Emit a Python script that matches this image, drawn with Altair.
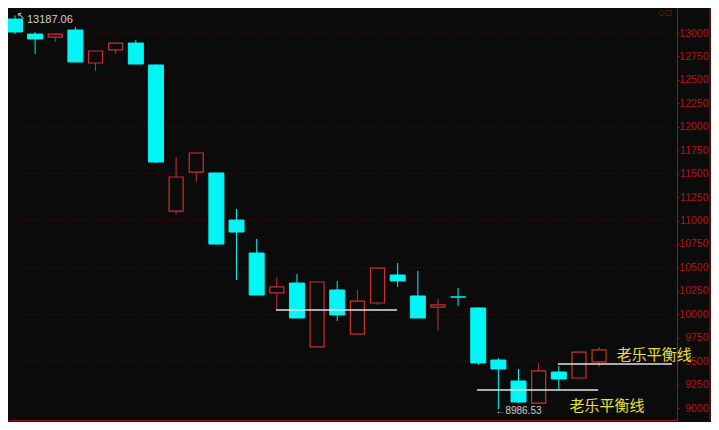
import altair as alt
import pandas as pd

# ---- data ----
idx = list(range(30))
opens = [13149, 12989, 12957, 13032, 12680, 12819, 12893, 12659, 11101, 11517,
         11507, 11005, 10653, 10227, 10333, 9651, 10259, 9789, 10120, 10419,
         10195, 10077, 10184, 10067, 9512, 9288, 9053, 9384, 9320, 9491]
closes = [13011, 12936, 12989, 12691, 12808, 12893, 12669, 11624, 11464, 11720,
          10749, 10877, 10205, 10291, 9960, 10344, 9992, 10141, 10493, 10355,
          9960, 10099, 10184, 9480, 9416, 9064, 9395, 9309, 9597, 9619]
highs = [13187.06, 13011, 12989, 13064, 12808, 12893, 12925, 12665, 11677, 11720,
         11507, 11123, 10803, 10397, 10429, 10344, 10355, 10259, 10493, 10547,
         10461, 10163, 10280, 10077, 9533, 9416, 9480, 9448, 9608, 9651]
lows = [12989, 12776, 12904, 12685, 12595, 12776, 12669, 11614, 11069, 11411,
        10739, 10365, 10205, 10045, 9960, 9651, 9928, 9789, 10099, 10291,
        9960, 9821, 10088, 9459, 8986.53, 9053, 9043, 9192, 9320, 9437]

tick_values = list(range(9000, 13001, 250))
grid_values = list(range(9000, 13001, 500))

# balance lines: start index, end index, level
bal_x = [12.96, 22.94, 26.95]
bal_x2 = [18.97, 28.95, 32.62]
bal_y = [10045, 9192, 9469]

label_text = ["老乐平衡线", "老乐平衡线"]
label_x = [29.88, 27.53]
label_y = [9565, 9021]

BG = "#0b0b0b"
TEAL = "#00f5f5"
RED = "#c83232"
AXRED = "#a01010"

df = pd.DataFrame({"i": idx, "open": opens, "close": closes, "high": highs, "low": lows})
df["up"] = df["close"] > df["open"]
df["top"] = df[["open", "close"]].max(axis=1)
df["bot"] = df[["open", "close"]].min(axis=1)

xs = alt.Scale(domain=[-0.0978, 32.62], nice=False, zero=False)
ys = alt.Scale(domain=[8872, 13266.67], nice=False, zero=False)

xax = alt.Axis(orient="bottom", labels=False, ticks=False, grid=False, title=None,
               domainColor=AXRED)
yax = alt.Axis(orient="right", values=tick_values, grid=False, title=None,
               labelColor="#b41414", labelFont="Liberation Sans", labelFontSize=10.5,
               labelAlign="right", labelPadding=29, tickSize=2, tickColor=AXRED,
               domainColor=AXRED, labelFlush=False, labelBaseline="middle", format="d")


def X(f):
    return alt.X(f, scale=xs, axis=xax)


def Y(f):
    return alt.Y(f, scale=ys, axis=yax)


col = alt.condition("datum.up", alt.value(RED), alt.value(TEAL))
base = alt.Chart(df)

grid = alt.Chart(pd.DataFrame({"g": grid_values, "x": [0] * len(grid_values),
                               "x2": [32.62] * len(grid_values)})).mark_rule(
    color="#5a0c0c", strokeDash=[1, 2], strokeWidth=1
).encode(x=X("x:Q"), x2="x2:Q", y=Y("g:Q"))

wick = base.mark_rule(strokeWidth=1).encode(
    x=X("i:Q"), y=Y("low:Q"), y2="high:Q", color=col,
)

body_down = base.transform_filter("!datum.up").mark_bar(
    size=15, color=TEAL, stroke=TEAL, strokeWidth=1
).encode(x=X("i:Q"), y=Y("top:Q"), y2="bot:Q")

body_up = base.transform_filter("datum.up").mark_bar(
    size=14, fill=BG, stroke=RED, strokeWidth=1.2
).encode(x=X("i:Q"), y=Y("top:Q"), y2="bot:Q")

bal = alt.Chart(pd.DataFrame({"x": bal_x, "x2": bal_x2, "y": bal_y})).mark_rule(
    color="#e4e4e4", strokeWidth=1.5
).encode(x=X("x:Q"), x2="x2:Q", y=Y("y:Q"))

labels = alt.Chart(pd.DataFrame({"t": label_text, "x": label_x, "y": label_y})).mark_text(
    align="left", baseline="middle", fontSize=15, color="#e6e03c",
    font="Noto Sans CJK SC"
).encode(x=X("x:Q"), y=Y("y:Q"), text="t:N")

hi_lab = alt.Chart(pd.DataFrame({"x": [0], "y": [highs[0]], "t": ["13187.06"]})).mark_text(
    align="left", baseline="middle", fontSize=11, color="#d0d0d0",
    font="Liberation Sans", dx=12, dy=5
).encode(x=X("x:Q"), y=Y("y:Q"), text="t:N")

hi_arrow = alt.Chart(pd.DataFrame({"x": [0], "y": [highs[0]], "t": ["↖"]})).mark_text(
    align="left", baseline="middle", fontSize=10, color="#d0d0d0",
    font="DejaVu Sans", dx=2, dy=1
).encode(x=X("x:Q"), y=Y("y:Q"), text="t:N")

lo_lab = alt.Chart(pd.DataFrame({"x": [24], "y": [lows[24]], "t": ["←8986.53"]})).mark_text(
    align="left", baseline="middle", fontSize=10, color="#d0d0d0",
    font="Liberation Sans", dx=-3, dy=2
).encode(x=X("x:Q"), y=Y("y:Q"), text="t:N")

icon = alt.Chart(pd.DataFrame({"t": ["⊙⊡"]})).mark_text(
    align="left", baseline="top", fontSize=9, color="#6a1414", font="DejaVu Sans"
).encode(x=alt.value(649), y=alt.value(1), text="t:N")

edge = alt.Chart(pd.DataFrame({"a": [0]})).mark_rule(color=AXRED, strokeWidth=1).encode(
    x=alt.value(702), y=alt.value(0), y2=alt.value(412)
)

chart = alt.layer(grid, wick, body_down, body_up, bal, labels,
                  hi_lab, hi_arrow, lo_lab, icon, edge).properties(
    width=669, height=412,
    autosize=alt.AutoSizeParams(type="none"),
    padding={"left": 0, "top": 0, "right": 34, "bottom": 2},
    background=BG,
).configure_view(stroke=None)

chart.save("out.html", embed_options={"renderer": "svg", "actions": False})
